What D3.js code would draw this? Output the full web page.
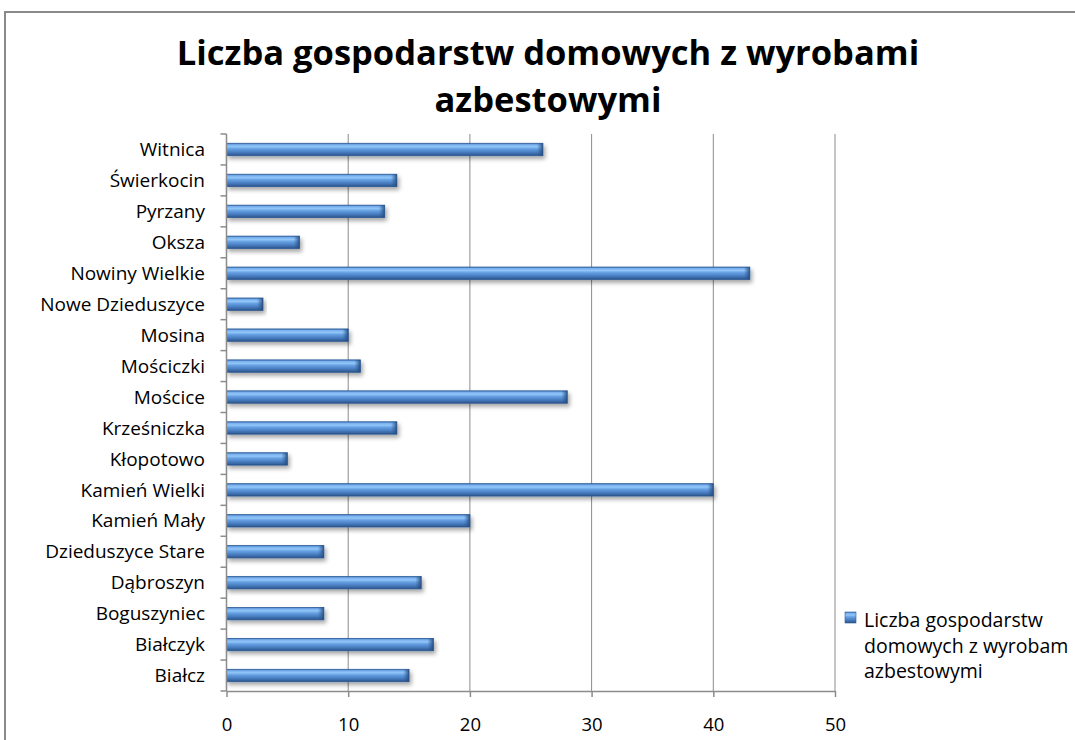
<!DOCTYPE html>
<html lang="pl">
<head>
    <meta charset="UTF-8">
    <title>Liczba gospodarstw domowych z wyrobami azbestowymi</title>
    <script src="https://d3js.org/d3.v7.min.js"></script>
    <style>
        body {
            margin: 0;
            background: #fff;
            font-family: "Open Sans", sans-serif;
            overflow: hidden;
        }

        .grid line {
            stroke: #8c8c8c;
            stroke-width: 1px;
        }

        .axis path, .axis line {
            stroke: #8c8c8c;
            stroke-width: 1.5px;
        }

        .axis text {
            font: 18.5px "Open Sans", sans-serif;
            fill: #000;
        }

        .cat-label {
            font: 19px "Open Sans", sans-serif;
            fill: #000;
        }

        .title {
            font: bold 34.5px "Open Sans", sans-serif;
            fill: #000;
        }

        .legend text {
            font: 19.5px "Open Sans", sans-serif;
            fill: #000;
        }
    </style>
</head>
<body>
    <div id="chart"></div>

    <script>
        // categories listed bottom -> top, as in the spreadsheet
        const categories = [
            "Białcz", "Białczyk", "Boguszyniec", "Dąbroszyn", "Dzieduszyce Stare",
            "Kamień Mały", "Kamień Wielki", "Kłopotowo", "Krześniczka", "Mościce",
            "Mościczki", "Mosina", "Nowe Dzieduszyce", "Nowiny Wielkie", "Oksza",
            "Pyrzany", "Świerkocin", "Witnica"
        ];
        const values = [15, 17, 8, 16, 8, 20, 40, 5, 14, 28, 11, 10, 3, 43, 6, 13, 14, 26];
        const xTicks = [0, 10, 20, 30, 40, 50];
        const titleLines = ["Liczba gospodarstw domowych z wyrobami", "azbestowymi"];
        // legend text as it shows in the picture (the last letter falls off the edge there)
        const legendLines = ["Liczba gospodarstw", "domowych z wyrobam", "azbestowymi"];

        const width = 1075;
        const height = 740;
        const plot = {left: 226.5, right: 835, top: 134, bottom: 691};

        const svg = d3.select("#chart")
            .append("svg")
            .attr("width", width)
            .attr("height", height);

        const defs = svg.append("defs");

        // bar gradient - excel 2007 style bevelled blue
        const grad = defs.append("linearGradient")
            .attr("id", "barGrad")
            .attr("x1", 0).attr("y1", 0).attr("x2", 0).attr("y2", 1);
        [
            [0, "#4479c0"], [0.12, "#79b0ee"], [0.28, "#92c6f8"], [0.45, "#66a0e2"],
            [0.7, "#4a80c4"], [0.88, "#3866a3"], [1, "#2a4e80"]
        ].forEach(s => grad.append("stop").attr("offset", s[0]).attr("stop-color", s[1]));

        const capGrad = defs.append("linearGradient")
            .attr("id", "capGrad")
            .attr("x1", 0).attr("y1", 0).attr("x2", 1).attr("y2", 0);
        capGrad.append("stop").attr("offset", 0).attr("stop-color", "#2e5a94").attr("stop-opacity", 0);
        capGrad.append("stop").attr("offset", 1).attr("stop-color", "#244a7c").attr("stop-opacity", 0.9);

        const shadow = defs.append("filter")
            .attr("id", "shadow")
            .attr("x", "-5%").attr("y", "-50%").attr("width", "115%").attr("height", "250%");
        shadow.append("feDropShadow")
            .attr("dx", 2).attr("dy", 3)
            .attr("stdDeviation", 2)
            .attr("flood-color", "#000")
            .attr("flood-opacity", 0.35);

        // outer chart border (runs off the page on right and bottom)
        svg.append("rect")
            .attr("x", 5).attr("y", 12)
            .attr("width", 1200).attr("height", 900)
            .attr("fill", "none")
            .attr("stroke", "#8a8a8a")
            .attr("stroke-width", 2);

        // title
        svg.append("text")
            .attr("class", "title")
            .attr("text-anchor", "middle")
            .selectAll("tspan")
            .data(titleLines)
            .enter()
            .append("tspan")
            .attr("x", 548)
            .attr("y", (d, i) => 65 + i * 47)
            .text(d => d);

        const x = d3.scaleLinear()
            .domain([0, 50])
            .range([plot.left, plot.right]);

        const y = d3.scaleBand()
            .domain(categories.slice().reverse())
            .range([plot.top, plot.bottom])
            .paddingInner(0.6)
            .paddingOuter(0.3);

        // gridlines
        svg.append("g")
            .attr("class", "grid")
            .selectAll("line")
            .data(xTicks.filter(t => t > 0))
            .enter()
            .append("line")
            .attr("x1", d => x(d)).attr("x2", d => x(d))
            .attr("y1", plot.top).attr("y2", plot.bottom);

        // bars
        const bars = svg.append("g")
            .selectAll("g")
            .data(categories.map((c, i) => ({name: c, value: values[i]})))
            .enter()
            .append("g");

        bars.append("rect")
            .attr("x", x(0))
            .attr("y", d => y(d.name))
            .attr("width", d => x(d.value) - x(0))
            .attr("height", y.bandwidth())
            .attr("fill", "url(#barGrad)")
            .attr("stroke", "#2f5d98")
            .attr("stroke-width", 0.8)
            .attr("filter", "url(#shadow)");

        bars.append("rect")
            .attr("x", d => x(d.value) - 6)
            .attr("y", d => y(d.name))
            .attr("width", 6)
            .attr("height", y.bandwidth())
            .attr("fill", "url(#capGrad)");

        // category axis (ticks between categories, excel style)
        const catAxis = svg.append("g").attr("class", "axis");
        catAxis.append("line")
            .attr("x1", plot.left).attr("x2", plot.left)
            .attr("y1", plot.top).attr("y2", plot.bottom);
        catAxis.selectAll(".tick")
            .data(d3.range(categories.length + 1))
            .enter()
            .append("line")
            .attr("x1", plot.left - 6).attr("x2", plot.left)
            .attr("y1", i => plot.top + i * (plot.bottom - plot.top) / categories.length)
            .attr("y2", i => plot.top + i * (plot.bottom - plot.top) / categories.length);

        svg.append("g")
            .selectAll("text")
            .data(categories)
            .enter()
            .append("text")
            .attr("class", "cat-label")
            .attr("x", 205)
            .attr("y", d => y(d) + y.bandwidth() / 2)
            .attr("dy", "0.35em")
            .attr("text-anchor", "end")
            .text(d => d);

        // value axis
        svg.append("g")
            .attr("class", "axis")
            .attr("transform", `translate(0,${plot.bottom})`)
            .call(d3.axisBottom(x).tickValues(xTicks).tickSize(6).tickPadding(21).tickSizeOuter(0));

        // legend
        const legend = svg.append("g").attr("class", "legend");
        legend.append("rect")
            .attr("x", 845).attr("y", 612)
            .attr("width", 11).attr("height", 11)
            .attr("fill", "url(#barGrad)")
            .attr("stroke", "#2f5d98")
            .attr("stroke-width", 0.6);
        legend.selectAll("text")
            .data(legendLines)
            .enter()
            .append("text")
            .attr("x", 864)
            .attr("y", (d, i) => 627 + i * 25.5)
            .text(d => d);
    </script>
</body>
</html>
